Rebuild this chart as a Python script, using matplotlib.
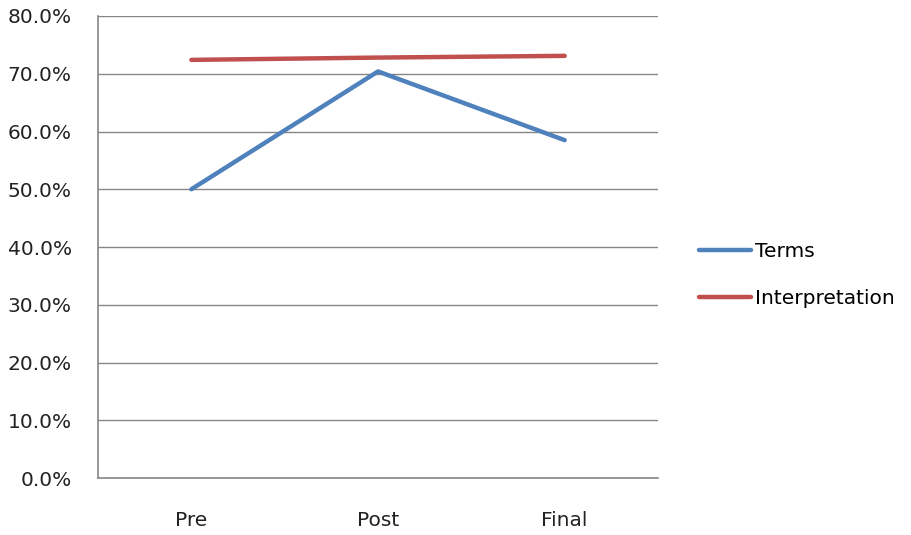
import matplotlib.pyplot as plt
from matplotlib.ticker import PercentFormatter

stages = ["Pre", "Post", "Final"]
terms = [50.0, 70.4, 58.5]
interpretation = [72.4, 72.8, 73.1]

plt.rcParams['font.family'] = ['DejaVu Sans']

fig = plt.figure(figsize=(9.11, 5.35), dpi=100)
ax = fig.add_axes([0.1076, 0.1065, 0.6147, 0.8636])

x = range(len(stages))
ax.plot(x, terms, color="#4F81BD", linewidth=3.2, label="Terms", solid_capstyle="round")
ax.plot(x, interpretation, color="#C0504D", linewidth=3.2, label="Interpretation", solid_capstyle="round")

ax.set_xlim(-0.5, 2.5)
ax.set_ylim(0, 80)
ax.set_yticks(range(0, 81, 10))
ax.yaxis.set_major_formatter(PercentFormatter(decimals=1))
ax.set_xticks(list(x))
ax.set_xticklabels(stages)
ax.yaxis.grid(True, color="#868686", linewidth=1.0)
ax.set_axisbelow(True)

for s in ["top", "right"]:
    ax.spines[s].set_visible(False)
for s in ["left", "bottom"]:
    ax.spines[s].set_color("#868686")
    ax.spines[s].set_linewidth(1.2)

ax.tick_params(axis="y", length=0, pad=19, labelsize=14.5, colors="#222222")
ax.tick_params(axis="x", length=0, pad=24, labelsize=14.5, colors="#222222")

fig.legend(loc="center left", bbox_to_anchor=(0.747, 0.486), frameon=False,
           fontsize=14.5, handlelength=2.6, handletextpad=0.2, labelspacing=1.4)

fig.savefig("out.png", dpi=100)
